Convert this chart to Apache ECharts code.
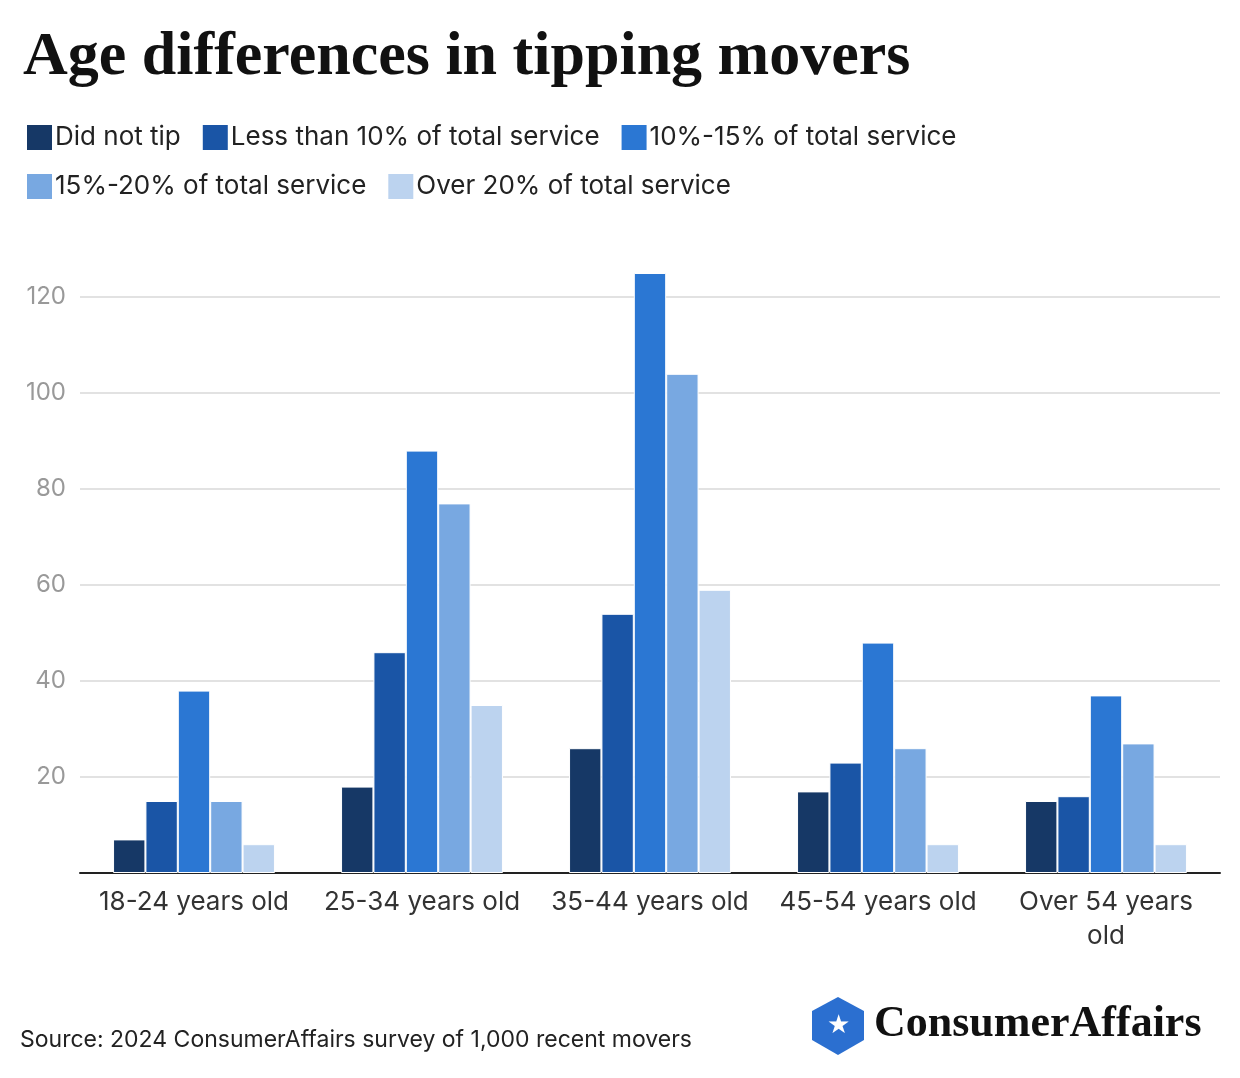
<!DOCTYPE html>
<html><head><meta charset="utf-8">
<script src="https://cdn.jsdelivr.net/npm/echarts@6/dist/echarts.min.js"></script>
<style>html,body{margin:0;background:#fff}#c{width:1240px;height:1078px}</style>
</head><body><div id="c"></div>
<script>
const categories = ['18-24 years old','25-34 years old','35-44 years old','45-54 years old','Over 54 years\nold'];
const seriesNames = ['Did not tip','Less than 10% of total service','10%-15% of total service','15%-20% of total service','Over 20% of total service'];
const didNotTip = [7,18,26,17,15];
const lessThan10 = [15,46,54,23,16];
const from10to15 = [38,88,125,48,37];
const from15to20 = [15,77,104,26,27];
const over20 = [6,35,59,6,6];
const colors = ['#163866','#1a55a6','#2b77d3','#78a8e1','#bcd3ef'];
const values = [didNotTip,lessThan10,from10to15,from15to20,over20];
const chart = echarts.init(document.getElementById('c'));
chart.setOption({
  animation:false,
  textStyle:{fontFamily:'Inter'},
  title:{text:'Age differences in tipping movers',left:18,top:22,textStyle:{fontFamily:'Liberation Serif',fontWeight:'bold',fontSize:62,color:'#111',letterSpacing:-1.5}},
  legend:{left:20,top:118,width:1210,itemWidth:27,itemHeight:27,itemGap:20,icon:'rect',
    textStyle:{fontSize:26,color:'#222',padding:[0,0,0,-3]}},
  grid:{left:80,right:20,top:297,bottom:205},
  xAxis:{type:'category',data:categories,axisTick:{show:false},
    axisLine:{lineStyle:{color:'#222',width:2}},
    axisLabel:{fontSize:26,color:'#333',margin:12,lineHeight:34,interval:0}},
  yAxis:{type:'value',min:0,max:120,interval:20,
    axisLabel:{fontSize:24,color:'#999',margin:14,formatter:v=>v===0?'':v},
    splitLine:{lineStyle:{color:'#e2e2e2',width:2}}},
  series:values.map((d,i)=>({name:seriesNames[i],type:'bar',data:d,clip:false,
    itemStyle:{color:colors[i],borderColor:'#fff',borderWidth:1},
    barGap:'0%',barCategoryGap:'29%'})),
  graphic:[
    {type:'text',left:20,top:1029,style:{text:'Source: 2024 ConsumerAffairs survey of 1,000 recent movers',fontSize:23,fill:'#222',fontFamily:'Inter'}},
    {type:'polygon',shape:{points:[[838,997],[864,1011],[864,1040],[838,1055],[812,1040],[812,1011]]},style:{fill:'#2b6fd0'}},
    {type:'text',x:838,y:1026,style:{text:'★',fontSize:26,fill:'#fff',align:'center',verticalAlign:'middle'}},
    {type:'text',left:874,top:1003,style:{text:'ConsumerAffairs',fontSize:44,fontWeight:'bold',fill:'#111',fontFamily:'Liberation Serif',letterSpacing:-1}}
  ]
});
</script></body></html>
